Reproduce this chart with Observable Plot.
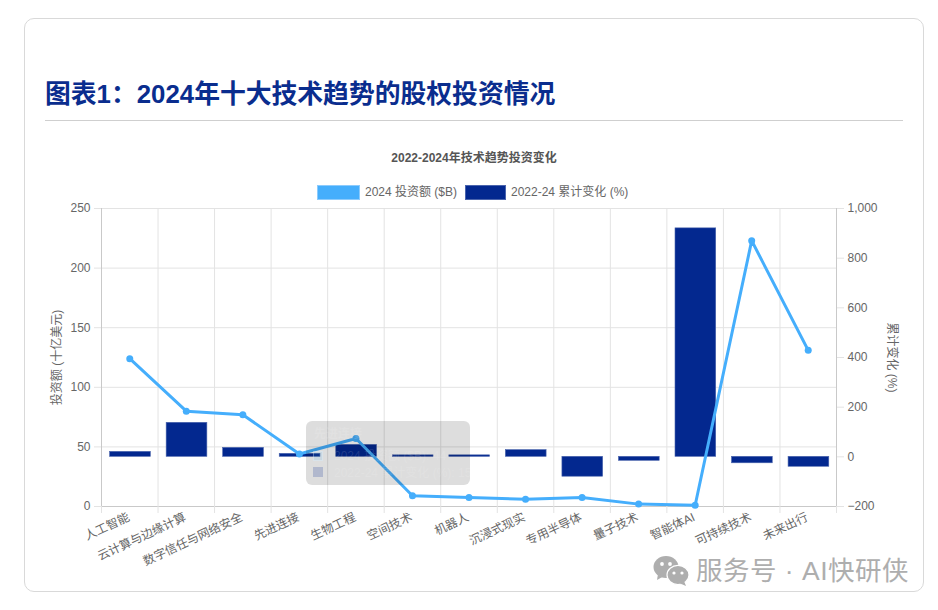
<!DOCTYPE html>
<html><head><meta charset="utf-8">
<script src="https://cdn.jsdelivr.net/npm/d3@7"></script>
<script src="https://cdn.jsdelivr.net/npm/@observablehq/plot@0.6"></script>
<style>
html,body{margin:0;padding:0;background:#fff;width:938px;height:610px;overflow:hidden}
body{font-family:"Liberation Sans","Noto Sans CJK SC",sans-serif;position:relative}
.card{position:absolute;left:24px;top:18px;width:898px;height:572px;border:1px solid #d9d9d9;border-radius:10px;box-sizing:content-box}
.title{position:absolute;left:45px;top:76px;font-size:25.8px;line-height:36px;font-weight:700;color:#0a2d8e;white-space:nowrap}
.rule{position:absolute;left:45px;top:120px;width:858px;height:1px;background:#cfcfcf}
.sub{position:absolute;left:0;width:948px;top:151px;text-align:center;font-size:12px;line-height:15px;font-weight:700;color:#555}
.legend{position:absolute;top:184px;left:317px;height:16px;font-size:12px;line-height:16px;color:#666;white-space:nowrap}
.legend span{position:absolute;top:0}
.legend i{position:absolute;top:1px;height:14.5px;width:43px;box-sizing:border-box}
#chart{position:absolute;left:0;top:170px}
.tip{position:absolute;left:306px;top:421px;width:164px;height:64px;border-radius:6px;background:rgba(0,0,0,.135)}
.tip div{position:absolute;left:8px;color:rgba(255,255,255,.13);font-size:12px;line-height:14px;white-space:nowrap}
.tip b{position:absolute;left:7px;width:10px;height:10px}
.wm{position:absolute;left:696px;top:553px;font-size:26.5px;line-height:36px;color:#aeaeae;white-space:nowrap;letter-spacing:.5px}
.wmi{position:absolute;left:653px;top:555px}
</style></head>
<body>
<div class="card"></div>
<div class="title">图表1：2024年十大技术趋势的股权投资情况</div>
<div class="rule"></div>
<div class="sub">2022-2024年技术趋势投资变化</div>
<div class="legend">
<i style="left:0;background:#45aefc;border:1px solid #8ccbfd"></i><span style="left:48px" id="l1"></span>
<i style="left:148px;background:#03288f;border:1px solid #4a64ad;width:41px"></i><span style="left:194px" id="l2"></span>
</div>
<div id="chart"></div>
<div class="tip">
<div style="top:6px;font-weight:700">先进连接</div>
<b style="top:30px;background:rgba(69,174,252,.13);border:1px solid rgba(255,255,255,.3);box-sizing:border-box"></b>
<div style="top:28px;left:28px">2024 投资额 ($B): 44</div>
<b style="top:46px;background:rgba(3,40,143,.2)"></b>
<div style="top:45px;left:28px">2022-24 累计变化 (%): 15</div>
</div>
<svg class="wmi" width="38" height="32" viewBox="0 0 38 32">
<ellipse cx="13" cy="12" rx="12.5" ry="11" fill="#aeaeae"/><path d="M5 19 L4 25 L11 21Z" fill="#aeaeae"/>
<circle cx="9" cy="9" r="1.9" fill="#fff"/><circle cx="17" cy="9" r="1.9" fill="#fff"/>
<ellipse cx="25" cy="20" rx="11" ry="9.6" fill="#aeaeae" stroke="#fff" stroke-width="1.2"/><path d="M31 26 L33 31 L26 28Z" fill="#aeaeae"/>
<circle cx="21" cy="18" r="1.6" fill="#fff"/><circle cx="29" cy="18" r="1.6" fill="#fff"/>
</svg>
<div class="wm">服务号 · AI快研侠</div>
<script>
const categories = ["人工智能","云计算与边缘计算","数字信任与网络安全","先进连接","生物工程","空间技术","机器人","沉浸式现实","专用半导体","量子技术","智能体AI","可持续技术","未来出行"];
const invest2024 = [124, 80, 77, 44, 57, 9, 7.5, 6, 7.5, 2, 1, 223, 131];
const change2224 = [20, 137, 36, 12, 48, 6, 6, 27, -80, -16, 920, -26, -40];
const leftTicks = [0, 50, 100, 150, 200, 250];
const rightTicks = [-200, 0, 200, 400, 600, 800, 1000];
const seriesNames = ["2024 投资额 ($B)", "2022-24 累计变化 (%)"];
const titles = {left: "投资额 (十亿美元)", right: "累计变化 (%)"};

document.getElementById("l1").textContent = seriesNames[0];
document.getElementById("l2").textContent = seriesNames[1];

const pct = d3.scaleLinear().domain([-200, 1000]).range([0, 250]);
const table = categories.map((c, i) => ({c, i, invest: invest2024[i], change: change2224[i]}));
const edges = d3.range(categories.length + 1);
const gridC = "#e3e3e3", axisC = "#c9c9c9", textC = "#666";
const font = '"Liberation Sans","Noto Sans CJK SC",sans-serif';

const fig = Plot.plot({
  width: 938, height: 400,
  marginTop: 38, marginBottom: 64, marginLeft: 101, marginRight: 102,
  style: {fontFamily: font, fontSize: "12px", color: textC, background: "transparent"},
  x: {domain: [0, categories.length], label: null},
  y: {domain: [0, 250], label: null},
  marks: [
    Plot.ruleY(leftTicks, {stroke: gridC}),
    Plot.ruleX(edges, {stroke: gridC, y1: 0, y2: 250}),
    Plot.rectY(table, {
      x1: d => d.i + 0.14, x2: d => d.i + 0.86,
      y1: d => pct(0), y2: d => pct(d.change),
      fill: "#03288f", stroke: "#4a64ad", strokeWidth: 0.6, dx: 0.7
    }),
    Plot.ruleX([0, categories.length], {stroke: axisC, y1: 0, y2: 250}),
    Plot.ruleY([0], {stroke: axisC}),
    Plot.line(table, {x: d => d.i + 0.5, y: "invest", stroke: "#45aefc", strokeWidth: 3}),
    Plot.dot(table, {x: d => d.i + 0.5, y: "invest", fill: "#45aefc", r: 3.5}),
    Plot.axisY({ticks: leftTicks, anchor: "left", tickSize: 7, tickPadding: 4, stroke: gridC, color: textC, fontSize: 12,
      label: titles.left, labelAnchor: "center", labelArrow: "none", labelOffset: 49, tickFormat: d3.format("d")}),
    Plot.axisY(rightTicks.map(pct), {anchor: "right", tickSize: 7, tickPadding: 4, stroke: gridC, fontSize: 12,
      tickFormat: v => d3.format(",")(Math.round(pct.invert(v))), label: null}),
    Plot.text([titles.right], {frameAnchor: "right", rotate: 90, dx: 55, textAnchor: "middle", fill: textC, fontSize: 12}),
    Plot.axisX(edges, {tickSize: 7, stroke: gridC, tickFormat: () => ""}),
    Plot.axisX(table.map(d => d.i + 0.5), {tickSize: 0, tickPadding: 10, tickRotate: -25, fontSize: 12, dx: -1,
      tickFormat: v => categories[Math.floor(v)], label: null})
  ]
});
document.getElementById("chart").appendChild(fig);
</script>
</body></html>
